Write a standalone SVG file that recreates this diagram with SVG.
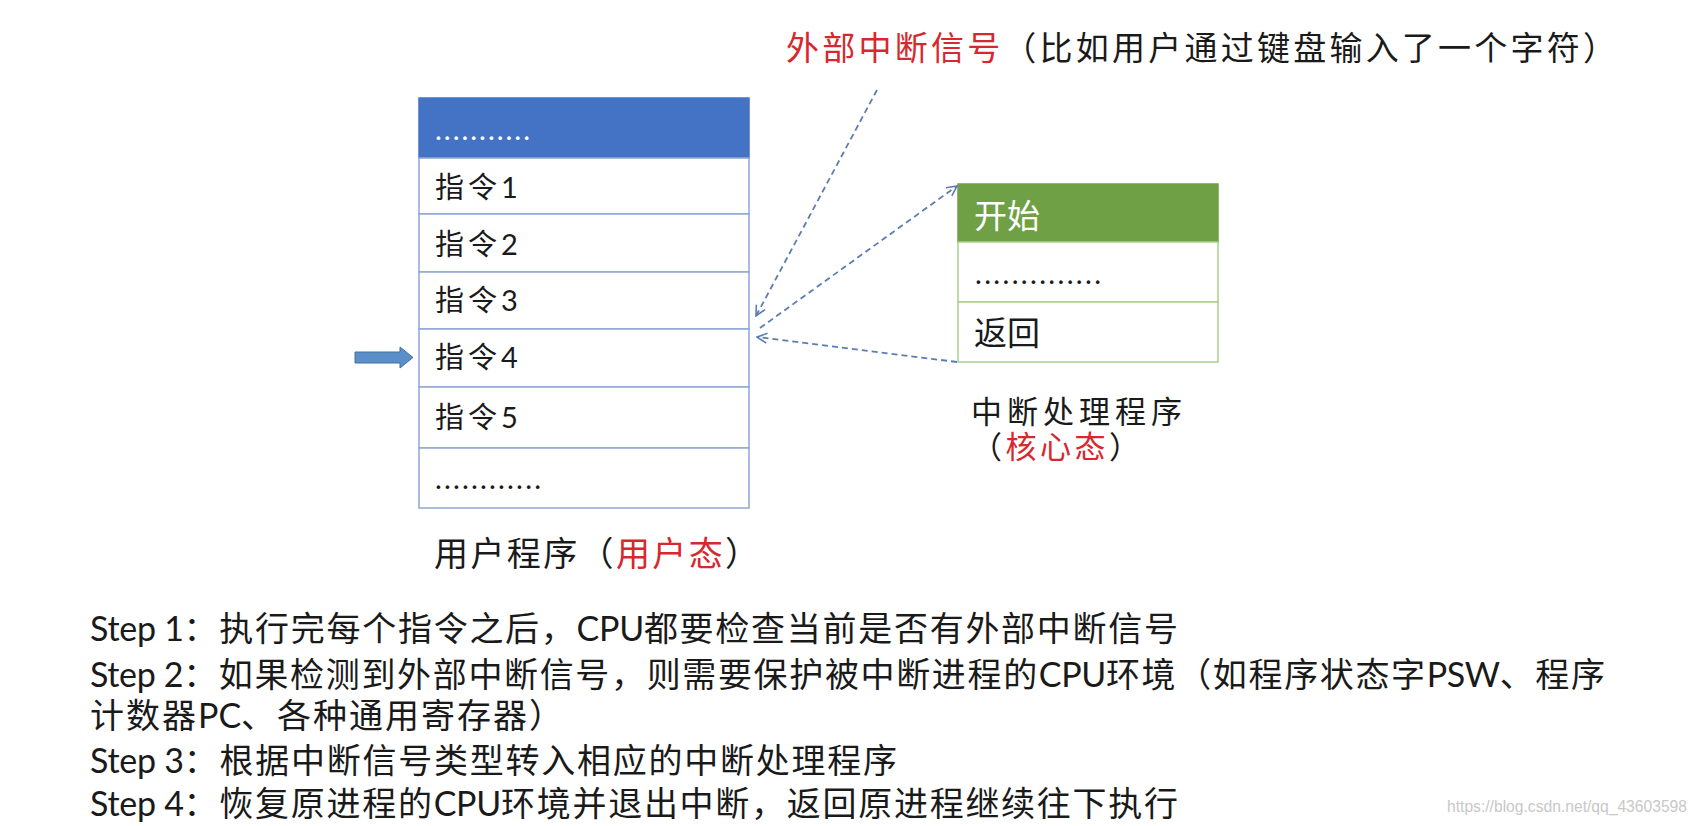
<svg xmlns="http://www.w3.org/2000/svg" width="1698" height="826" viewBox="0 0 1698 826">
<style>
  text { font-family: "Lato", "Noto Sans CJK SC", sans-serif; fill: #1a1a1a; }
  .red { fill: #d6282e; }
  .row { fill: #ffffff; stroke: #8ea6d6; stroke-width: 1.5; }
  .grow { fill: #ffffff; stroke: #a9cf8c; stroke-width: 1.5; }
  .conn { fill: none; stroke: #5b7db3; stroke-width: 1.8; stroke-dasharray: 6 4; marker-end: url(#open); }
  .cell { font-size: 29px; }
  .lbl { font-size: 33px; }
  .step { font-size: 34px; }
  .cj { letter-spacing: 2px; }
  .cc { letter-spacing: 4px; }
  .la { letter-spacing: 0px; }
</style>
<defs>
  <marker id="open" viewBox="0 0 12 12" refX="11" refY="6" markerWidth="12" markerHeight="12" markerUnits="userSpaceOnUse" orient="auto">
    <path d="M1,1 L11,6 L1,11" fill="none" stroke="#5b7db3" stroke-width="1.6"/>
  </marker>
</defs>
<rect width="1698" height="826" fill="#ffffff"/>

<g id="top-label">
  <text class="lbl" x="786" y="60" textLength="830" lengthAdjust="spacing"><tspan class="red">外部中断信号</tspan>（比如用户通过键盘输入了一个字符）</text>
</g>

<g id="user-program">
  <rect x="419" y="98" width="330" height="60" fill="#4472c4" stroke="#4472c4" stroke-width="1.5"/>
  <rect class="row" x="419" y="158" width="330" height="56"/>
  <rect class="row" x="419" y="214" width="330" height="58"/>
  <rect class="row" x="419" y="272" width="330" height="57"/>
  <rect class="row" x="419" y="329" width="330" height="58"/>
  <rect class="row" x="419" y="387" width="330" height="61"/>
  <rect class="row" x="419" y="448" width="330" height="60"/>
  <text class="cell" x="435" y="140" textLength="95" lengthAdjust="spacing" style="fill:#ffffff">...........</text>
  <text class="cell" x="435" y="198"><tspan class="cc">指令</tspan>1</text>
  <text class="cell" x="435" y="255"><tspan class="cc">指令</tspan>2</text>
  <text class="cell" x="435" y="311"><tspan class="cc">指令</tspan>3</text>
  <text class="cell" x="435" y="368"><tspan class="cc">指令</tspan>4</text>
  <text class="cell" x="435" y="428"><tspan class="cc">指令</tspan>5</text>
  <text class="cell" x="435" y="489" textLength="106" lengthAdjust="spacing">............</text>
  <text x="434" y="566" style="font-size:34px" textLength="325" lengthAdjust="spacing">用户程序（<tspan class="red">用户态</tspan>）</text>
</g>

<g id="pc-arrow">
  <path d="M355,352 L400,352 L400,347 L413,357.5 L400,368 L400,363 L355,363 Z" fill="#5b8fc9" stroke="#41719c" stroke-width="1"/>
</g>

<g id="handler">
  <rect x="958" y="184" width="260" height="58" fill="#70a045" stroke="#70a045" stroke-width="1.5"/>
  <rect class="grow" x="958" y="242" width="260" height="60"/>
  <rect class="grow" x="958" y="302" width="260" height="60"/>
  <text x="974" y="228" style="font-size:33px;fill:#ffffff">开始</text>
  <text class="cell" x="975" y="284" textLength="126" lengthAdjust="spacing">..............</text>
  <text x="974" y="345" style="font-size:33px">返回</text>
  <text x="971" y="423" style="font-size:31px" textLength="211" lengthAdjust="spacing">中断处理程序</text>
  <text x="971" y="458" style="font-size:31px" textLength="169" lengthAdjust="spacing">（<tspan class="red">核心态</tspan>）</text>
</g>

<g id="connectors">
  <line class="conn" x1="877" y1="90" x2="756" y2="316"/>
  <line class="conn" x1="760" y1="328" x2="957" y2="186"/>
  <line class="conn" x1="957" y1="362" x2="757" y2="337"/>
</g>

<g id="steps">
  <text class="step" x="90" y="641" textLength="1090" lengthAdjust="spacing"><tspan class="la">Step 1</tspan><tspan class="cj">：执行完每个指令之后，</tspan><tspan class="la">CPU</tspan><tspan class="cj">都要检查当前是否有外部中断信号</tspan></text>
  <text class="step" x="90" y="687" textLength="1517" lengthAdjust="spacing"><tspan class="la">Step 2</tspan><tspan class="cj">：如果检测到外部中断信号，则需要保护被中断进程的</tspan><tspan class="la">CPU</tspan><tspan class="cj">环境（如程序状态字</tspan><tspan class="la">PSW</tspan><tspan class="cj">、程序</tspan></text>
  <text class="step" x="90" y="728" textLength="475" lengthAdjust="spacing"><tspan class="cj">计数器</tspan><tspan class="la">PC</tspan><tspan class="cj">、各种通用寄存器）</tspan></text>
  <text class="step" x="90" y="773" textLength="809" lengthAdjust="spacing"><tspan class="la">Step 3</tspan><tspan class="cj">：根据中断信号类型转入相应的中断处理程序</tspan></text>
  <text class="step" x="90" y="816" textLength="1090" lengthAdjust="spacing"><tspan class="la">Step 4</tspan><tspan class="cj">：恢复原进程的</tspan><tspan class="la">CPU</tspan><tspan class="cj">环境并退出中断，返回原进程继续往下执行</tspan></text>
</g>

<g id="watermark">
  <text x="1447" y="812" style="font-size:16px;fill:#c8c8c8;font-family:'Liberation Sans',sans-serif" textLength="240" lengthAdjust="spacingAndGlyphs">https://blog.csdn.net/qq_43603598</text>
</g>
</svg>
